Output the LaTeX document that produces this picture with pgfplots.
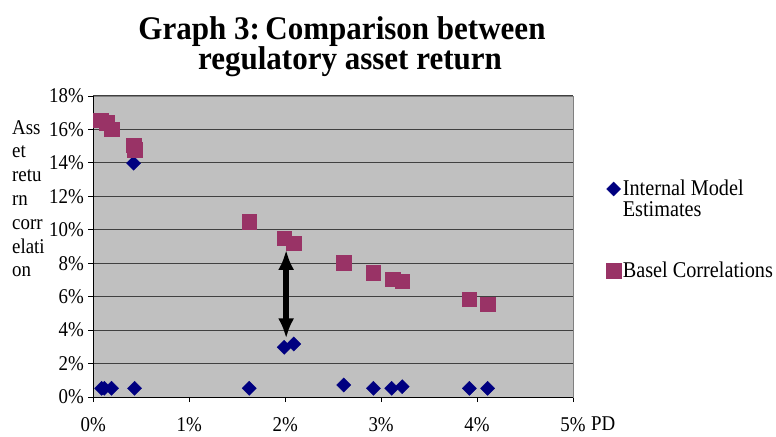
\documentclass[border=0pt]{standalone}
\usepackage{pgfplots}
\pgfplotsset{compat=1.18}
\usepackage{fontspec}
\setmainfont{Liberation Serif}
\newfontfamily\condfont{Liberation Serif}[FakeStretch=0.9]
\newfontfamily\titlefont{Liberation Serif}[FakeStretch=0.94]
\usetikzlibrary{arrows.meta}
\definecolor{navyc}{HTML}{000080}
\definecolor{plumc}{HTML}{993366}
\definecolor{plotbg}{HTML}{C0C0C0}
\begin{document}
\begin{tikzpicture}
\path[use as bounding box] (0,0) rectangle (776bp,437bp);
\node[anchor=base, inner sep=0] at (342bp,397bp) {\titlefont\fontsize{33bp}{30bp}\selectfont\bfseries Graph 3:\,Comparison between};
\node[anchor=base, inner sep=0] at (350bp,367bp) {\titlefont\fontsize{33bp}{30bp}\selectfont\bfseries regulatory asset return};
\node[anchor=north west, inner sep=0, align=left, font=\condfont\fontsize{21bp}{23.8bp}\selectfont] at (12bp,317bp) {Ass\\et\\retu\\rn\\corr\\elati\\on};
\node[anchor=base west, inner sep=0, font=\condfont\fontsize{21bp}{22bp}\selectfont] at (591bp,7bp) {PD};
\begin{axis}[
  at={(93.3bp,40bp)}, anchor=south west,
  scale only axis, width=479.7bp, height=301bp,
  xmin=0, xmax=5, ymin=0, ymax=18,
  axis background/.style={fill=plotbg},
  axis line style={draw=gray, line width=0.8bp},
  xtick={0,1,2,3,4,5}, xticklabels={0\%,1\%,2\%,3\%,4\%,5\%},
  ytick={0,2,...,18}, yticklabels={0\%,2\%,4\%,6\%,8\%,10\%,12\%,14\%,16\%,18\%},
  xtick pos=bottom, ytick pos=left,
  tick align=outside, major tick length=5bp,
  tick style={black, line width=0.8bp},
  ymajorgrids, grid style={draw=black!75, line width=1bp},
  ticklabel style={font=\condfont\fontsize{21bp}{22bp}\selectfont},
  xticklabel style={yshift=-12bp},
  yticklabel style={xshift=-1bp},
  legend style={at={(rel axis cs:1.063,0.735)}, anchor=north west, draw=none, fill=none,
    font=\condfont\fontsize{22.5bp}{21bp}\selectfont, row sep=40bp,
    cells={anchor=west, align=left}},
  legend cell align=left,
  clip=false,
]
\addplot[forget plot, only marks, mark=square*, mark size=5bp, mark options={rotate=45, fill=navyc, draw=navyc}] coordinates {
(0.087,0.52) (0.115,0.52) (0.19,0.52) (0.42,13.98) (0.43,0.52) (1.625,0.52)
(1.99,2.97) (2.09,3.17) (2.61,0.72) (2.92,0.52) (3.11,0.52) (3.22,0.62)
(3.92,0.52) (4.11,0.52)};
\addlegendimage{only marks, mark=square*, mark size=5bp, mark options={yshift=10bp, rotate=45, fill=navyc, draw=navyc}}
\addlegendentry{Internal Model\\Estimates}
\addplot[only marks, mark=square*, mark size=7.2bp, mark options={fill=plumc, draw=plumc}] coordinates {
(0.077,16.57) (0.14,16.4) (0.19,16.0) (0.42,15.07) (0.43,14.8) (1.625,10.48)
(1.99,9.49) (2.09,9.19) (2.61,8.03) (2.92,7.43) (3.12,7.04) (3.22,6.94)
(3.92,5.84) (4.11,5.56)};
\addlegendentry{Basel Correlations}
\draw[black, line width=6.5bp, {Latex[length=20bp,width=16bp]}-{Latex[length=20bp,width=16bp]}] (axis cs:2.01,8.8) -- (axis cs:2.01,3.5);
\draw[black, line width=1bp] (rel axis cs:0,1) -- (rel axis cs:0,0) -- (rel axis cs:1,0);
\end{axis}
\end{tikzpicture}
\end{document}
